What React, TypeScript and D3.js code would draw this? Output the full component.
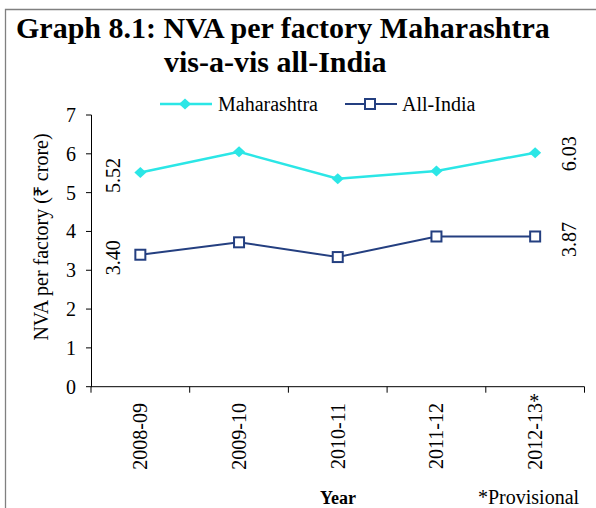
import React from "react";
import * as d3 from "d3";

const categories = ["2008-09", "2009-10", "2010-11", "2011-12", "2012-13*"];
const maharashtra = [5.52, 6.05, 5.36, 5.56, 6.03];
const allIndia = [3.40, 3.72, 3.34, 3.87, 3.87];
const yTicks = [0, 1, 2, 3, 4, 5, 6, 7];

const W = 596;
const H = 508;
const FONT = "'Liberation Serif', 'Times New Roman', serif";
const CYAN = "#2BE6E6";
const NAVY = "#243F80";

export default function App() {
  const x = d3.scaleBand<string>().domain(categories).range([91, 584.5]).padding(0);
  const y = d3.scaleLinear().domain([0, 7]).range([386.7, 115]);
  const cx = (c: string) => (x(c) as number) + x.bandwidth() / 2;

  const line = d3
    .line<number>()
    .x((_, i) => cx(categories[i]))
    .y((d) => y(d));

  const diamond = (px: number, py: number) =>
    `M${px},${py - 5.5}L${px + 6},${py}L${px},${py + 5.5}L${px - 6},${py}Z`;

  const first = categories[0];
  const last = categories[categories.length - 1];

  return (
    <svg width={W} height={H} style={{ position: "absolute", left: 0, top: 0 }} fontFamily={FONT}>
      <rect x={0} y={0} width={W} height={H} fill="#fff" />
      <path d={`M5.5,${H}V9.5H${W}`} fill="none" stroke="#808080" strokeWidth={1.3} />

      {/* Title */}
      <text x={16} y={38} fontSize={30} fontWeight="bold" fill="#000">
        Graph 8.1: NVA per factory Maharashtra
      </text>
      <text x={164} y={72} fontSize={30} fontWeight="bold" fill="#000">
        vis-a-vis all-India
      </text>

      {/* Legend */}
      <g>
        <line x1={160} x2={212} y1={104} y2={104} stroke={CYAN} strokeWidth={2.5} />
        <path d={diamond(185, 104)} fill={CYAN} />
        <text x={218} y={110.5} fontSize={20} fill="#000">Maharashtra</text>
        <line x1={345} x2={397} y1={104} y2={104} stroke={NAVY} strokeWidth={2} />
        <rect x={365} y={99} width={10} height={10} fill="#fff" stroke={NAVY} strokeWidth={2} />
        <text x={402} y={110.5} fontSize={20} fill="#000">All-India</text>
      </g>

      {/* Y axis */}
      <line x1={91.5} x2={91.5} y1={y(7)} y2={y(0)} stroke="#000" strokeWidth={1} />
      {yTicks.map((t) => (
        <g key={t}>
          <line x1={86} x2={91.5} y1={y(t)} y2={y(t)} stroke="#000" strokeWidth={1} />
          <text x={76} y={y(t) + 7} fontSize={20} textAnchor="end" fill="#000">
            {t}
          </text>
        </g>
      ))}
      <text
        transform={`translate(48,237) rotate(-90)`}
        fontSize={20}
        textAnchor="middle"
        fill="#000"
      >
        NVA per factory (₹ crore)
      </text>

      {/* X axis */}
      <line x1={91} x2={584.5} y1={y(0)} y2={y(0)} stroke="#000" strokeWidth={1} />
      {[...categories.map((c) => x(c) as number), 584.5].map((b, i) => (
        <line key={i} x1={b} x2={b} y1={y(0)} y2={y(0) + 6} stroke="#000" strokeWidth={1} />
      ))}
      {categories.map((c) => {
        const star = c.endsWith("*");
        const label = star ? c.slice(0, -1) : c;
        const bx = cx(c) + 7;
        return (
          <g key={c}>
            <text
              transform={`translate(${bx},403) rotate(-90)`}
              fontSize={20}
              textAnchor="end"
              fill="#000"
            >
              {label}
            </text>
            {star && (
              <text x={cx(c) - 1} y={408} fontSize={20} textAnchor="middle" fill="#000">
                *
              </text>
            )}
          </g>
        );
      })}
      <text x={338} y={504} fontSize={18} fontWeight="bold" textAnchor="middle" fill="#000">
        Year
      </text>
      <text x={478} y={504} fontSize={20} fill="#000">*Provisional</text>

      {/* Series */}
      <path d={line(maharashtra) || ""} fill="none" stroke={CYAN} strokeWidth={2.5} />
      {maharashtra.map((v, i) => (
        <path key={i} d={diamond(cx(categories[i]), y(v))} fill={CYAN} />
      ))}
      <path d={line(allIndia) || ""} fill="none" stroke={NAVY} strokeWidth={2} />
      {allIndia.map((v, i) => (
        <rect
          key={i}
          x={cx(categories[i]) - 5}
          y={y(v) - 5}
          width={10}
          height={10}
          fill="#fff"
          stroke={NAVY}
          strokeWidth={2}
        />
      ))}

      {/* Data labels (first and last points) */}
      {[
        { v: maharashtra[0], c: first, dx: -27, dy: 3 },
        { v: allIndia[0], c: first, dx: -27, dy: 3 },
        { v: maharashtra[maharashtra.length - 1], c: last, dx: 34, dy: 1 },
        { v: allIndia[allIndia.length - 1], c: last, dx: 34, dy: 3 },
      ].map((d, i) => (
        <text
          key={i}
          transform={`translate(${cx(d.c) + d.dx + 7},${y(d.v) + d.dy}) rotate(-90)`}
          fontSize={20}
          textAnchor="middle"
          fill="#000"
        >
          {d.v.toFixed(2)}
        </text>
      ))}
    </svg>
  );
}
